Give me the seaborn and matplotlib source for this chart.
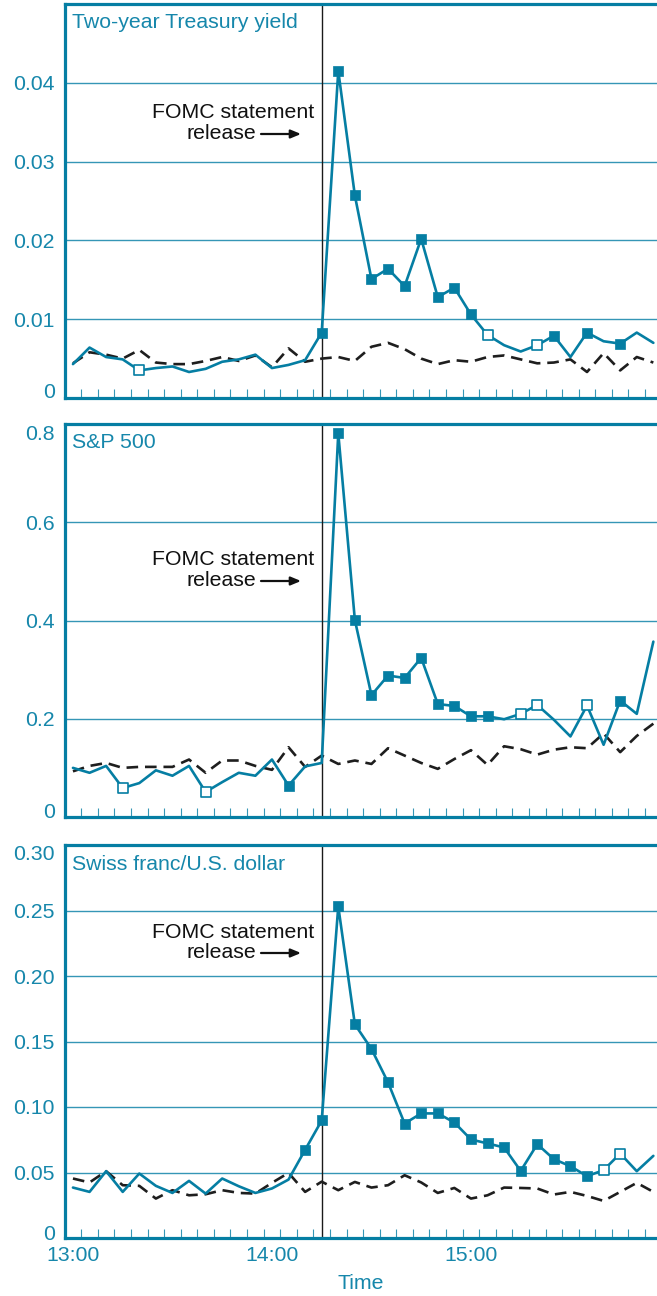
import matplotlib
matplotlib.use("Agg")
import matplotlib.pyplot as plt
import matplotlib.transforms as mtransforms
import numpy as np
import pandas as pd
import seaborn as sns

# ---------------- data ----------------
minutes = list(range(0, 180, 5))          # minutes after 13:00
release_minute = 75                        # FOMC statement at 14:15

treasury_event = [0.0043, 0.0064, 0.0052, 0.0049, 0.0035, 0.0038, 0.0040, 0.0033, 0.0037, 0.0046,
                  0.0049, 0.0055, 0.0038, 0.0042, 0.0048, 0.0083, 0.0415, 0.0257, 0.0151, 0.0164,
                  0.0142, 0.0202, 0.0128, 0.0140, 0.0106, 0.0080, 0.0067, 0.0059, 0.0067, 0.0079,
                  0.0052, 0.0083, 0.0072, 0.0069, 0.0083, 0.0070]
treasury_control = [0.0044, 0.0058, 0.0055, 0.0050, 0.0061, 0.0045, 0.0043, 0.0043, 0.0047, 0.0052,
                    0.0047, 0.0054, 0.0039, 0.0063, 0.0046, 0.0050, 0.0052, 0.0047, 0.0065, 0.0070,
                    0.0062, 0.0050, 0.0043, 0.0048, 0.0046, 0.0052, 0.0054, 0.0049, 0.0044, 0.0045,
                    0.0049, 0.0033, 0.0057, 0.0035, 0.0052, 0.0045]
treasury_sig = "....O..........FFFFFFFFFFO..OF.F.F.."

sp500_event = [0.100, 0.090, 0.104, 0.059, 0.069, 0.095, 0.084, 0.104, 0.051, 0.071,
               0.090, 0.084, 0.117, 0.064, 0.103, 0.110, 0.781, 0.401, 0.248, 0.288,
               0.283, 0.324, 0.230, 0.226, 0.205, 0.205, 0.199, 0.210, 0.228, 0.198,
               0.164, 0.227, 0.147, 0.237, 0.210, 0.357]
sp500_control = [0.093, 0.104, 0.110, 0.100, 0.102, 0.102, 0.102, 0.117, 0.090, 0.115,
                 0.115, 0.104, 0.096, 0.142, 0.102, 0.125, 0.108, 0.115, 0.108, 0.140,
                 0.125, 0.110, 0.098, 0.118, 0.136, 0.106, 0.144, 0.138, 0.127, 0.137,
                 0.142, 0.140, 0.170, 0.132, 0.165, 0.190]
sp500_sig = "...O....O....F..FFFFFFFFFF.OO..O.F.."

chf_event = [0.0385, 0.0352, 0.0510, 0.0352, 0.0492, 0.0398, 0.0344, 0.0436, 0.0339, 0.0454,
             0.0395, 0.0344, 0.0378, 0.0446, 0.0673, 0.0897, 0.2531, 0.1631, 0.1443, 0.1188,
             0.0874, 0.0951, 0.0951, 0.0882, 0.0752, 0.0722, 0.0691, 0.0512, 0.0716, 0.0602,
             0.0548, 0.0472, 0.0518, 0.0645, 0.0510, 0.0627]
chf_control = [0.0454, 0.0424, 0.0510, 0.0403, 0.0398, 0.0301, 0.0365, 0.0326, 0.0334, 0.0365,
               0.0344, 0.0339, 0.0421, 0.0497, 0.0352, 0.0430, 0.0365, 0.0428, 0.0385, 0.0403,
               0.0479, 0.0424, 0.0344, 0.0382, 0.0301, 0.0326, 0.0385, 0.0382, 0.0378, 0.0332,
               0.0352, 0.0321, 0.0283, 0.0352, 0.0421, 0.0352]
chf_sig = "..............FFFFFFFFFFFFFFFFFFOO.."

titles = ["Two-year Treasury yield", "S&P 500", "Swiss franc/U.S. dollar"]
yticks = [[0, 0.01, 0.02, 0.03, 0.04],
          [0, 0.2, 0.4, 0.6, 0.8],
          [0, 0.05, 0.10, 0.15, 0.20, 0.25, 0.30]]
ytick_labels = [["0", "0.01", "0.02", "0.03", "0.04"],
                ["0", "0.2", "0.4", "0.6", "0.8"],
                ["0", "0.05", "0.10", "0.15", "0.20", "0.25", "0.30"]]
ylims = [(0, 0.05), (0, 0.8), (0, 0.30)]
xtick_pos = [0, 60, 120]
xtick_labels = ["13:00", "14:00", "15:00"]
xlabel = "Time"
annot_line1 = "FOMC statement"
annot_line2 = "release"

# ---------------- style ----------------
sns.set_style("white")
plt.rcParams["font.family"] = ["Liberation Sans", "DejaVu Sans"]

TEAL = "#057ea3"
TEXT_TEAL = "#1687ab"
GRID = "#3596b6"
FS = 15.3

W, H = 657, 1296
fig = plt.figure(figsize=(W / 100, H / 100), dpi=100)

# panel boxes in pixels: (top, bottom)
boxes = [(4, 398), (424, 817), (845, 1238)]
left_px, right_px = 65, 657
annot_y_px = [113, 560, 932]      # centre of "FOMC statement"
low_shift = [7, 6, 6]              # lift "0" label (px)
top_shift = [0, -9, -8]            # lower top label (px)

events = [treasury_event, sp500_event, chf_event]
controls = [treasury_control, sp500_control, chf_control]
sigs = [treasury_sig, sp500_sig, chf_sig]

for k in range(3):
    top, bot = boxes[k]
    ax = fig.add_axes([left_px / W, 1 - bot / H, (right_px - left_px) / W, (bot - top) / H])
    hpx = bot - top
    wpx = right_px - left_px

    df = pd.DataFrame({"minute": minutes, "event": events[k], "control": controls[k],
                       "sig": list(sigs[k])})

    ax.set_xlim(-2.4, 176.1)
    ax.set_ylim(*ylims[k])

    # grid
    for v in yticks[k][1:]:
        ax.axhline(v, color=GRID, lw=1.0, zorder=1)
    ax.axvline(release_minute, color="#1a1a1a", lw=1.0, zorder=2)

    sns.lineplot(data=df, x="minute", y="control", ax=ax, color="#1e1e1e", lw=1.9,
                 linestyle=(0, (4.4, 2.6)), zorder=3, estimator=None)
    sns.lineplot(data=df, x="minute", y="event", ax=ax, color=TEAL, lw=1.9,
                 zorder=4, estimator=None)
    filled = df[df["sig"] == "F"]
    opened = df[df["sig"] == "O"]
    if len(filled):
        sns.scatterplot(data=filled, x="minute", y="event", ax=ax, marker="s", s=56,
                        color=TEAL, edgecolor=TEAL, linewidth=0.5, zorder=5)
    if len(opened):
        sns.scatterplot(data=opened, x="minute", y="event", ax=ax, marker="s", s=50,
                        color="white", edgecolor=TEAL, linewidth=1.2, zorder=5)

    # spines
    for side in ["left", "top", "bottom"]:
        ax.spines[side].set_visible(True)
        ax.spines[side].set_color(TEAL)
        ax.spines[side].set_linewidth(2.3)
        ax.spines[side].set_zorder(6)
    ax.spines["right"].set_visible(False)

    # y ticks
    ax.set_yticks(yticks[k])
    ax.set_yticklabels(ytick_labels[k])
    ax.tick_params(axis="y", length=0, pad=7.5, labelsize=FS, labelcolor=TEXT_TEAL)
    ylabs = ax.get_yticklabels()
    ylabs[0].set_transform(ylabs[0].get_transform() +
                           mtransforms.ScaledTranslation(0, low_shift[k] / 100, fig.dpi_scale_trans))
    ylabs[-1].set_transform(ylabs[-1].get_transform() +
                            mtransforms.ScaledTranslation(0, top_shift[k] / 100, fig.dpi_scale_trans))

    # x ticks
    ax.set_xticks(xtick_pos)
    ax.set_xticks([m + 2.5 for m in minutes[:-1]], minor=True)
    ax.tick_params(axis="x", which="minor", direction="in", length=6.5, width=0.8,
                   color=GRID, bottom=True)
    ax.tick_params(axis="x", which="major", length=0, pad=5.5, labelsize=FS,
                   labelcolor=TEXT_TEAL)
    if k == 2:
        ax.set_xticklabels(xtick_labels)
        ax.set_xlabel(xlabel, fontsize=FS, color=TEXT_TEAL, labelpad=7)
    else:
        ax.set_xticklabels([])
        ax.set_xlabel("")
    ax.set_ylabel("")

    # panel title
    ax.text(7.5 / wpx, 1 - 19 / hpx, titles[k], transform=ax.transAxes, ha="left",
            va="center", fontsize=FS, color=TEXT_TEAL)

    # annotation
    ya = 1 - (annot_y_px[k] - top) / hpx
    yb = 1 - (annot_y_px[k] + 21 - top) / hpx
    ax.text((314 - left_px) / wpx, ya, annot_line1, transform=ax.transAxes,
            ha="right", va="center", fontsize=FS, color="#111111")
    ax.text((256 - left_px) / wpx, yb, annot_line2, transform=ax.transAxes,
            ha="right", va="center", fontsize=FS, color="#111111")
    ax.annotate("", xy=((301 - left_px) / wpx, yb), xytext=((261 - left_px) / wpx, yb),
                xycoords="axes fraction",
                arrowprops=dict(arrowstyle="-|>,head_length=0.6,head_width=0.25",
                                color="#111111", lw=1.6, shrinkA=0, shrinkB=0))

fig.savefig("out.png", dpi=100)
